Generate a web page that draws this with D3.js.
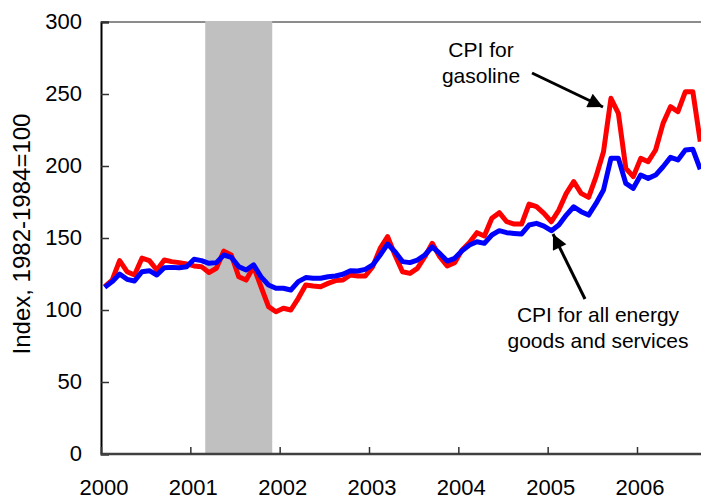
<!DOCTYPE html>
<html>
<head>
<meta charset="utf-8">
<script src="https://cdn.jsdelivr.net/npm/d3@7"></script>
<style>
  body { margin: 0; background: #fff; }
  svg { display: block; font-family: "Liberation Sans", Arial, sans-serif; }
</style>
</head>
<body>
<script>
// DATA - monthly CPI, Jan 2000 to Sep 2006 (1982-84=100)
var startYear = 2000;
var gasoline = [
  116.2, 120.8, 134.3, 126.6, 124.3, 136.0, 134.3, 127.8, 134.7, 133.6, 132.9, 132.0,
  130.6, 130.1, 126.0, 129.0, 140.9, 138.2, 123.1, 120.8, 130.1, 116.0, 102.3, 98.8,
  101.2, 100.0, 108.1, 117.4, 116.7, 116.2, 118.5, 120.4, 120.8, 124.3, 123.6, 123.6,
  130.1, 142.8, 150.9, 138.0, 126.6, 125.4, 128.9, 137.0, 146.3, 137.0, 130.6, 132.9,
  141.7, 146.8, 153.7, 151.4, 163.7, 167.6, 161.3, 159.7, 159.7, 173.6, 171.8, 167.1,
  161.3, 169.4, 181.0, 189.1, 181.0, 178.2, 192.6, 209.9, 247.0, 236.6, 198.4, 192.6,
  205.3, 203.0, 211.1, 229.6, 241.2, 237.7, 251.6, 251.6, 216.9
];
var energy = [
  115.7, 119.7, 125.0, 121.3, 120.1, 126.6, 127.3, 124.3, 129.4, 129.6, 129.4, 130.1,
  135.2, 134.3, 132.4, 132.9, 138.2, 136.6, 130.1, 127.8, 131.3, 123.0, 117.4, 115.1,
  115.1, 113.9, 119.7, 122.5, 122.0, 122.0, 123.1, 123.6, 124.8, 127.3, 127.1, 128.2,
  131.3, 138.2, 145.8, 140.5, 133.6, 132.9, 134.7, 138.2, 143.9, 139.3, 134.0, 135.9,
  141.2, 145.1, 147.4, 146.3, 152.1, 155.1, 153.7, 153.2, 152.8, 159.0, 160.2, 158.3,
  155.1, 159.0, 165.9, 171.7, 168.3, 165.9, 174.0, 183.3, 205.3, 205.3, 187.9, 184.5,
  193.7, 191.4, 193.7, 199.5, 206.0, 204.2, 211.1, 211.6, 197.7
];
var years = [2000, 2001, 2002, 2003, 2004, 2005, 2006];
var yTicks = [0, 50, 100, 150, 200, 250, 300];
var recession = [2001 + 2/12, 2001 + 11/12]; // Mar - Nov 2001

//SETTING UP THE CANVAS
var w = 701, h = 500;
var plotLeft = 101, plotTop = 22, plotBottom = 454;
var svg = d3.select("body").append("svg")
  .attr("width", w)
  .attr("height", h);

var x = d3.scaleLinear().domain([2000, 2006]).range([plotLeft, 637]);
var y = d3.scaleLinear().domain([0, 300]).range([plotBottom, plotTop]);

// month index -> middle of that month
function monthX(i) { return x(startYear + (i + 0.5) / 12); }

//TOP BORDER
svg.append("line")
  .attr("x1", plotLeft).attr("x2", w)
  .attr("y1", plotTop).attr("y2", plotTop)
  .attr("stroke", "#8c8c8c").attr("stroke-width", 2);

//RECESSION BAND
svg.append("rect")
  .attr("x", x(recession[0]))
  .attr("y", plotTop - 1)
  .attr("width", x(recession[1]) - x(recession[0]))
  .attr("height", plotBottom - plotTop + 1)
  .attr("fill", "#c0c0c0");

//LINES
var line = d3.line()
  .x(function(d, i) { return monthX(i); })
  .y(function(d) { return y(d); });

svg.append("path").datum(gasoline)
  .attr("d", line)
  .attr("fill", "none")
  .attr("stroke", "#ff0000")
  .attr("stroke-width", 5)
  .attr("stroke-linejoin", "round");

svg.append("path").datum(energy)
  .attr("d", line)
  .attr("fill", "none")
  .attr("stroke", "#0000ff")
  .attr("stroke-width", 5)
  .attr("stroke-linejoin", "round");

//Y AXIS
var yAxis = svg.append("g")
  .attr("transform", "translate(" + plotLeft + ",0)")
  .call(d3.axisRight(y).tickValues(yTicks).tickSize(8).tickFormat(""));
yAxis.select(".domain").attr("stroke", "#000").attr("stroke-width", 2);
yAxis.selectAll(".tick line").attr("stroke", "#333").attr("stroke-width", 1.5);

svg.selectAll(".ylab")
  .data(yTicks)
  .join("text")
  .attr("class", "ylab")
  .attr("x", 82)
  .attr("y", function(d) { return y(d) + 7; })
  .attr("text-anchor", "end")
  .attr("font-size", 22)
  .attr("fill", "#000")
  .text(function(d) { return d; });

//X AXIS
var xAxis = svg.append("g")
  .attr("transform", "translate(0," + plotBottom + ")")
  .call(d3.axisTop(x).tickValues(years).tickSize(7).tickFormat(""));
xAxis.select(".domain").attr("d", "M" + plotLeft + ",0H" + w)
  .attr("stroke", "#404040").attr("stroke-width", 2.5);
xAxis.selectAll(".tick line").attr("stroke", "#333").attr("stroke-width", 1.5);

svg.selectAll(".xlab")
  .data(years)
  .join("text")
  .attr("class", "xlab")
  .attr("x", function(d) { return x(d) + 3; })
  .attr("y", 495)
  .attr("text-anchor", "middle")
  .attr("font-size", 22)
  .attr("fill", "#000")
  .text(function(d) { return d; });

//Y TITLE
svg.append("text")
  .attr("transform", "translate(30,234) rotate(-90)")
  .attr("text-anchor", "middle")
  .attr("font-size", 24)
  .attr("fill", "#000")
  .text("Index, 1982-1984=100");

//ANNOTATIONS
svg.append("defs").append("marker")
  .attr("id", "head")
  .attr("viewBox", "0 0 10 10")
  .attr("refX", 10).attr("refY", 5)
  .attr("markerWidth", 6).attr("markerHeight", 5)
  .attr("markerUnits", "strokeWidth")
  .attr("orient", "auto")
  .append("path").attr("d", "M0,0L10,5L0,10Z").attr("fill", "#000");

function note(lines, cx, y0) {
  svg.append("text")
    .attr("text-anchor", "middle")
    .attr("font-size", 21)
    .attr("fill", "#000")
    .selectAll("tspan")
    .data(lines)
    .join("tspan")
    .attr("x", cx)
    .attr("y", function(d, i) { return y0 + i * 26; })
    .text(function(d) { return d; });
}
function arrow(x1, y1, x2, y2) {
  svg.append("line")
    .attr("x1", x1).attr("y1", y1)
    .attr("x2", x2).attr("y2", y2)
    .attr("stroke", "#000").attr("stroke-width", 3)
    .attr("marker-end", "url(#head)");
}

note(["CPI for", "gasoline"], 481, 57);
arrow(532, 73, 603, 107);
note(["CPI for all energy", "goods and services"], 598, 322);
arrow(585, 299, 553, 234);
</script>
</body>
</html>
